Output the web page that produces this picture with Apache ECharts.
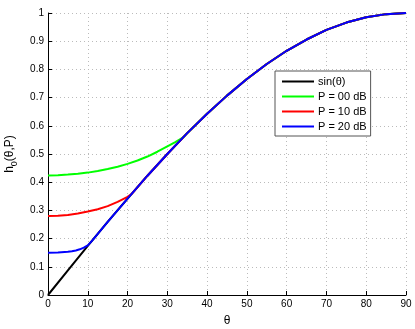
<!DOCTYPE html>
<html><head><meta charset="utf-8">
<script src="https://cdn.jsdelivr.net/npm/echarts@6/dist/echarts.min.js"></script>
<style>html,body{margin:0;padding:0;background:#fff}#c{width:415px;height:329px}</style>
</head><body><div id="c"></div>
<script>
const seriesNames = ['sin(\u03b8)', 'P = 00 dB', 'P = 10 dB', 'P = 20 dB'];
const seriesColors = ['#000000', '#00ff00', '#ff0000', '#0000ff'];
const sinTheta = [0,5,10,15,20,25,30,35,40,45,50,55,60,65,70,75,80,85,90];
const sinVals  = [0,0.087,0.174,0.259,0.342,0.423,0.5,0.574,0.643,0.707,0.766,0.819,0.866,0.906,0.94,0.966,0.985,0.996,1];
const p00Theta = [0,2.5,5,7.5,10,12.5,15,17.5,20,22.5,25,27.5,30,32,34];
const p00Vals  = [0.424,0.425,0.427,0.430,0.434,0.440,0.447,0.455,0.465,0.477,0.491,0.508,0.527,0.542,0.559];
const p10Theta = [0,2.5,5,7.5,10,12.5,15,17.5,20,21];
const p10Vals  = [0.280,0.281,0.284,0.289,0.296,0.304,0.315,0.330,0.348,0.358];
const p20Theta = [0,2.5,5,6,7,8,9,10,11];
const p20Vals  = [0.150,0.151,0.153,0.155,0.158,0.162,0.168,0.176,0.191];

function pairs(t, v){ return t.map((x,i)=>[x, v[i]]); }
function withTail(t, v){
  const head = pairs(t, v);
  const last = t[t.length-1];
  const tail = pairs(sinTheta, sinVals).filter(p => p[0] > last);
  return head.concat(tail);
}
const dataSets = [pairs(sinTheta, sinVals), withTail(p00Theta,p00Vals), withTail(p10Theta,p10Vals), withTail(p20Theta,p20Vals)];

const chart = echarts.init(document.getElementById('c'));
const font = 'Liberation Sans, Arial, sans-serif';
chart.setOption({
  animation:false,
  backgroundColor:'#fff',
  grid:{left:48, right:9, top:13, bottom:34, containLabel:false, outerBoundsMode:'none'},
  xAxis:{type:'value', min:0, max:90, interval:10,
    name:'\u03b8', nameLocation:'middle', nameGap:20,
    nameTextStyle:{color:'#000', fontSize:12, fontFamily:font},
    axisLine:{lineStyle:{color:'#000', width:1}},
    axisTick:{inside:true, length:4, lineStyle:{color:'#000'}},
    axisLabel:{color:'#000', fontSize:10, fontFamily:font, margin:4},
    splitLine:{show:true, lineStyle:{color:'#bbbbbb', type:[1,3], width:1}}},
  yAxis:{type:'value', min:0, max:1, interval:0.1,
    name:'{a|h}{b|0}{a|(\u03b8,P)}', nameLocation:'middle', nameGap:27, nameRotate:90,
    nameTextStyle:{rich:{a:{fontSize:12, fontFamily:font, color:'#000', lineHeight:20, verticalAlign:'middle'},
                         b:{fontSize:9, fontFamily:font, color:'#000', lineHeight:20, verticalAlign:'bottom'}}},
    axisLine:{show:true, lineStyle:{color:'#000', width:1}},
    axisTick:{show:true, inside:true, length:4, lineStyle:{color:'#000'}},
    axisLabel:{color:'#000', fontSize:10, fontFamily:font, margin:4,
      formatter: v => String(Math.round(v*10)/10)},
    splitLine:{show:true, lineStyle:{color:'#bbbbbb', type:[1,3], width:1}}},
  legend:{orient:'vertical', left:275, top:71, itemWidth:32, itemHeight:10, itemGap:4,
    padding:[5,4,4,6], borderColor:'#555', borderWidth:1, backgroundColor:'#fff',
    itemStyle:{opacity:0},
    textStyle:{color:'#000', fontSize:11, fontFamily:font, padding:[0,0,0,-1]},
    data:seriesNames},
  series: seriesNames.map((n,i)=>({
    name:n, type:'line', data:dataSets[i], symbol:'none', showSymbol:false,
    lineStyle:{color:seriesColors[i], width:2}, itemStyle:{color:seriesColors[i]}, z:2+i
  }))
});
</script></body></html>
